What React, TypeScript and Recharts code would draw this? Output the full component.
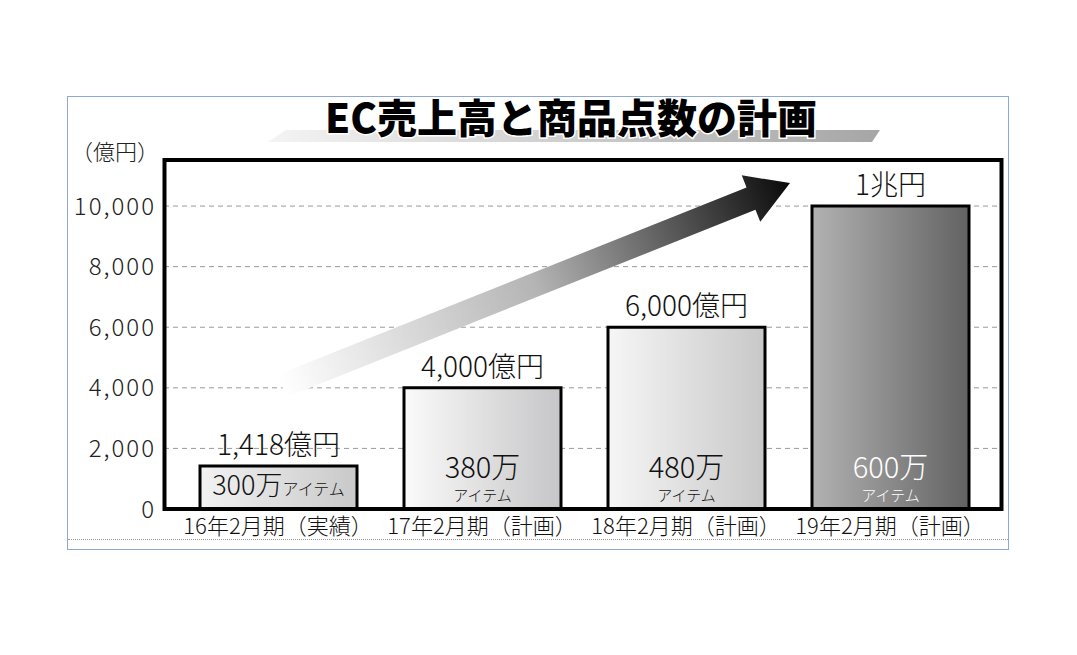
import { BarChart, Bar, XAxis, YAxis, CartesianGrid, Cell, LabelList } from "recharts";

const categories = ["16年2月期（実績）", "17年2月期（計画）", "18年2月期（計画）", "19年2月期（計画）"];
const sales = [1418, 4000, 6000, 10000];
const salesLabels = ["1,418億円", "4,000億円", "6,000億円", "1兆円"];
const itemCounts = ["300万", "380万", "480万", "600万"];
const yTicks = [0, 2000, 4000, 6000, 8000, 10000];

const FONT = '"Noto Sans CJK JP", "Noto Sans", sans-serif';
const barGradients = [
  ["#f2f2f2", "#c9c9c9"],
  ["#fafafa", "#c6c6c8"],
  ["#f6f6f6", "#c8c8c8"],
  ["#b2b2b2", "#626262"],
];

const data = categories.map((name, i) => ({
  name,
  sales: sales[i],
  top: salesLabels[i],
  items: itemCounts[i],
}));

const TopLabel = (props: any) => {
  const { x, y, width, value } = props;
  return (
    <text x={x + width / 2} y={y - 11} textAnchor="middle" fontSize={28} fill="#111" fontFamily={FONT} fontWeight={300}>
      {value}
    </text>
  );
};

const ItemLabel = (props: any) => {
  const { x, y, width, height, value, index } = props;
  const cx = x + width / 2;
  const bottom = y + height;
  const fill = index === 3 ? "#fff" : "#111";
  if (index === 0) {
    return (
      <text x={cx} y={bottom - 14} textAnchor="middle" fill={fill} fontFamily={FONT} fontWeight={300}>
        <tspan fontSize={27}>{value}</tspan>
        <tspan fontSize={16}>アイテム</tspan>
      </text>
    );
  }
  // two lines in one text element
  return (
    <text x={cx} y={bottom - 31} textAnchor="middle" fill={fill} fontFamily={FONT} fontWeight={300}>
      <tspan x={cx} fontSize={29}>{value}</tspan>
      <tspan x={cx} dy={23} fontSize={15}>アイテム</tspan>
    </text>
  );
};

export default function App() {
  return (
    <div style={{ position: "absolute", left: 0, top: 0, width: 1077, height: 655, background: "#fff" }}>
      {/* outer frame */}
      <div style={{ position: "absolute", left: 67, top: 96, width: 940, height: 452, border: "1px solid #8fa9d6" }} />
      <div style={{ position: "absolute", left: 68, top: 539, width: 940, borderTop: "1px dotted #9a9a9a" }} />

      <div style={{ position: "absolute", left: 0, top: 0 }}>
        <BarChart width={1077} height={655} data={data} margin={{ top: 160, right: 76, bottom: 116, left: 84 }}>
          <defs>
            {barGradients.map((g, i) => (
              <linearGradient key={i} id={`barGrad${i}`} x1="0" y1="0" x2="1" y2="0">
                <stop offset="0%" stopColor={g[0]} />
                <stop offset="100%" stopColor={g[1]} />
              </linearGradient>
            ))}
          </defs>
          <CartesianGrid vertical={false} stroke="#9a9a9a" strokeDasharray="5 4" />
          <XAxis
            dataKey="name"
            height={30}
            padding={{ left: 12, right: 9 }}
            axisLine={false}
            tickLine={false}
            tickMargin={3}
            tick={{ fontSize: 22, fill: "#111", fontFamily: FONT, fontWeight: 300 }}
            interval={0}
          />
          <YAxis
            width={80}
            domain={[0, 11520]}
            ticks={yTicks}
            axisLine={false}
            tickLine={false}
            tickFormatter={(v: number) => v.toLocaleString("en-US")}
            tick={{ fontSize: 24, fill: "#222", fontFamily: FONT, fontWeight: 300, letterSpacing: 2 }}
          />
          <Bar dataKey="sales" barSize={157} stroke="#000" strokeWidth={3} isAnimationActive={false}>
            {data.map((_, i) => (
              <Cell key={i} fill={`url(#barGrad${i})`} />
            ))}
            <LabelList dataKey="top" content={TopLabel} />
            <LabelList dataKey="items" content={ItemLabel} />
          </Bar>
        </BarChart>
      </div>

      <svg width={1077} height={655} style={{ position: "absolute", left: 0, top: 0, pointerEvents: "none" }}>
        <defs>
          <linearGradient id="titleBand" x1="0" y1="0" x2="1" y2="0">
            <stop offset="0%" stopColor="#f4f4f4" />
            <stop offset="100%" stopColor="#a6a6a6" />
          </linearGradient>
          <linearGradient id="arrowGrad" gradientUnits="userSpaceOnUse" x1={282} y1={386} x2={790} y2={183}>
            <stop offset="0%" stopColor="#ffffff" />
            <stop offset="50%" stopColor="#b4b4b4" />
            <stop offset="100%" stopColor="#0a0a0a" />
          </linearGradient>
        </defs>

        {/* title */}
        <polygon points="286,130 880,130 872,142 268,142" fill="url(#titleBand)" />
        <text
          x={571}
          y={133}
          textAnchor="middle"
          fontSize={40}
          fontWeight={900}
          fontFamily={FONT}
          fill="#000"
          stroke="#fff"
          strokeWidth={3}
          paintOrder="stroke"
        >
          EC売上高と商品点数の計画
        </text>

        {/* unit label */}
        <text x={115} y={160} textAnchor="middle" fontSize={22} fontFamily={FONT} fontWeight={300} fill="#222">
          （億円）
        </text>

        {/* trend arrow */}
        {(() => {
          const tx = 282, ty = 386, hx = 790, hy = 183;
          const len = Math.hypot(hx - tx, hy - ty);
          const ux = (hx - tx) / len, uy = (hy - ty) / len;
          const nx = -uy, ny = ux;
          const headLen = 42, headW = 25, shaftW = 12;
          const bx = hx - ux * headLen, by = hy - uy * headLen;
          const pts = [
            [tx + nx * shaftW, ty + ny * shaftW],
            [bx + nx * shaftW, by + ny * shaftW],
            [bx + nx * headW, by + ny * headW],
            [hx, hy],
            [bx - nx * headW, by - ny * headW],
            [bx - nx * shaftW, by - ny * shaftW],
            [tx - nx * shaftW, ty - ny * shaftW],
          ];
          return <polygon points={pts.map((p) => p.join(",")).join(" ")} fill="url(#arrowGrad)" />;
        })()}

        {/* plot border */}
        <rect x={164.5} y={160} width={837} height={349} fill="none" stroke="#000" strokeWidth={4} />
      </svg>
    </div>
  );
}
